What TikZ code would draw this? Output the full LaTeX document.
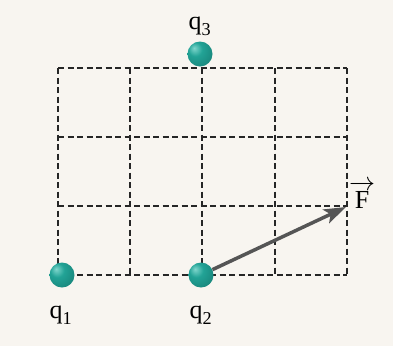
\RequirePackage{fix-cm}
\documentclass[tikz,border=0pt]{standalone}
\usepackage{amsmath}
\usepackage{fontspec}
\setmainfont{Liberation Serif}
\usetikzlibrary{
    positioning,
    arrows.meta
}
\definecolor{Fundo}{HTML}{F8F5F0}
\definecolor{EsfClara}{HTML}{7FD6CC}
\definecolor{Carga}{HTML}{22A396}
\definecolor{CargaEscura}{HTML}{14786F}
\definecolor{Seta}{HTML}{555555}
\definecolor{Grade}{HTML}{262626}
\pgfdeclareradialshading{esfera}{\pgfqpoint{-12bp}{12bp}}{%
    color(0bp)=(EsfClara); color(14bp)=(Carga);
    color(45bp)=(CargaEscura); color(70bp)=(CargaEscura)}
\tikzset{
    carga/.style={circle, minimum size=25pt, inner sep=0pt, shading=esfera},
    rotulo/.style={font=\fontsize{26}{26}\selectfont, inner sep=0pt, anchor=base},
    grade/.style={Grade, dash pattern=on 6pt off 3.5pt, line width=1.6pt},
    seta/.style={Seta, line width=3.5pt, -{Stealth[length=22pt, width=15pt, inset=5pt]}}
}

\begin{document}
\begin{tikzpicture}[x=1pt, y=-1pt]
    \fill[Fundo] (0,0) rectangle (393,346);
    % grade
    \foreach \x in {58,130,202,275,347}
        \draw[grade] (\x,68) -- (\x,275);
    \foreach \y in {68,137,206,275}
        \draw[grade] (58,\y) -- (347,\y);
    % cargas
    \node[carga] (q1) at (62,275) {};
    \node[carga] (q2) at (201,275) {};
    \node[carga] (q3) at (200,54) {};
    \node[rotulo] (rq1) at (61,318) {$\text{q}_{\text{1}}$};
    \node[rotulo] (rq2) at (201,318) {$\text{q}_{\text{2}}$};
    \node[rotulo] (rq3) at (200,29) {$\text{q}_{\text{3}}$};
    % forca
    \coordinate (ponta) at (346,207);
    \draw[seta] (q2) -- (ponta);
    \node[rotulo] (rF) at (362,208) {$\overrightarrow{\text{F}}$};
\end{tikzpicture}
\end{document}
